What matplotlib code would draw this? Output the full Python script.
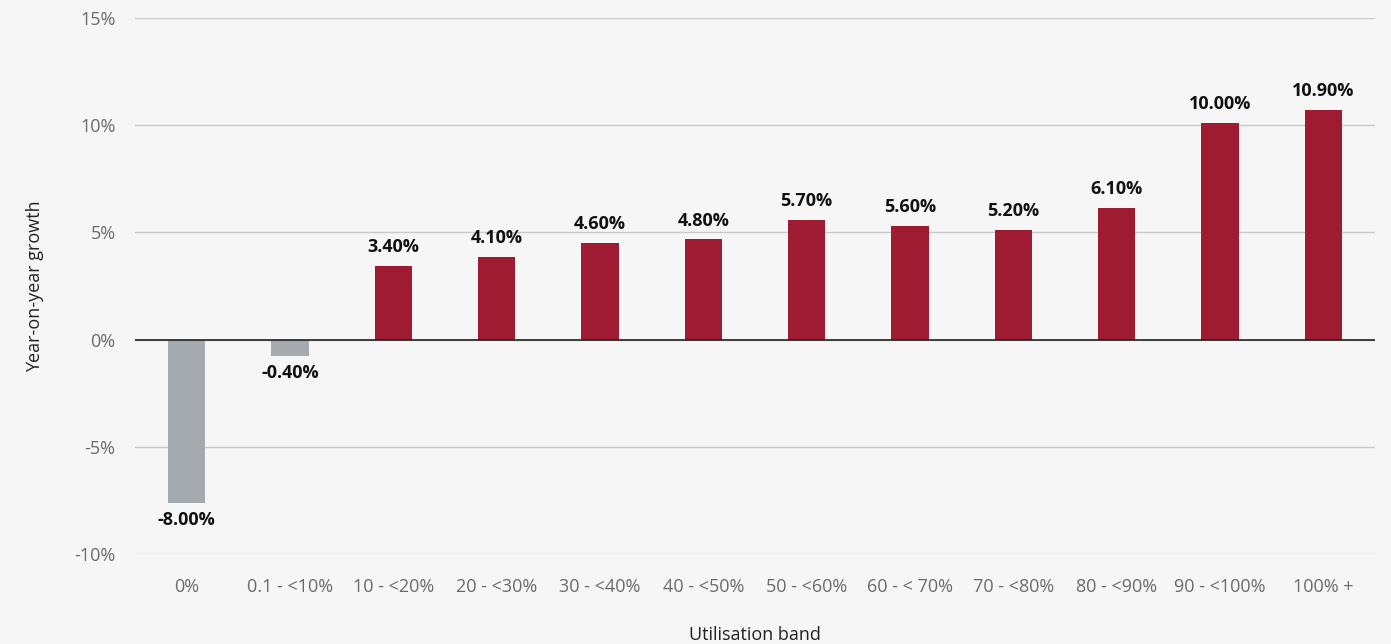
import matplotlib.pyplot as plt
from matplotlib.ticker import FuncFormatter

# Utilisation bands and year-on-year growth (bar heights)
bands = ['0%', '0.1 - <10%', '10 - <20%', '20 - <30%', '30 - <40%', '40 - <50%',
         '50 - <60%', '60 - < 70%', '70 - <80%', '80 - <90%', '90 - <100%', '100% +']
growth = [-7.6, -0.75, 3.45, 3.85, 4.5, 4.67, 5.6, 5.32, 5.13, 6.15, 10.1, 10.7]
value_labels = ['-8.00%', '-0.40%', '3.40%', '4.10%', '4.60%', '4.80%',
                '5.70%', '5.60%', '5.20%', '6.10%', '10.00%', '10.90%']

plt.rcParams['font.family'] = ['Open Sans', 'DejaVu Sans']

bg = '#f6f6f6'
fig = plt.figure(figsize=(13.91, 6.44), dpi=100, facecolor=bg)
ax = fig.add_axes([0.097, 0.1398, 0.8915, 0.8322], facecolor=bg)

colors = ['#a4aaad' if v < 0 else '#9e1b32' for v in growth]
x = range(len(bands))
ax.bar(x, growth, width=0.36, color=colors, zorder=3)

for i, (v, lab) in enumerate(zip(growth, value_labels)):
    if v >= 0:
        ax.annotate(lab, (i, v), xytext=(0, 7), textcoords='offset points',
                    ha='center', va='bottom', fontsize=13, fontweight='bold', color='#111111')
    else:
        ax.annotate(lab, (i, v), xytext=(0, -6), textcoords='offset points',
                    ha='center', va='top', fontsize=13, fontweight='bold', color='#111111')

ax.set_xlim(-0.5, len(bands) - 0.5)
ax.set_ylim(-10, 15)
ax.set_yticks([-10, -5, 0, 5, 10, 15])
ax.yaxis.set_major_formatter(FuncFormatter(lambda v, p: f'{v:.0f}%'))
ax.set_xticks(list(x))
ax.set_xticklabels(bands)
ax.tick_params(length=0, labelsize=13, labelcolor='#6b6b6b')
ax.tick_params(axis='y', pad=14)
ax.tick_params(axis='x', pad=17)

ax.grid(axis='y', color='#c8cacb', linewidth=1, zorder=0)
ax.axhline(0, color='#222222', linewidth=1.2, zorder=4)
for s in ax.spines.values():
    s.set_visible(False)

ax.set_xlabel('Utilisation band', fontsize=13, color='#222222', labelpad=22)
ax.set_ylabel('Year-on-year growth', fontsize=13, color='#222222', labelpad=22)

fig.savefig('out.png', dpi=100, facecolor=bg)
